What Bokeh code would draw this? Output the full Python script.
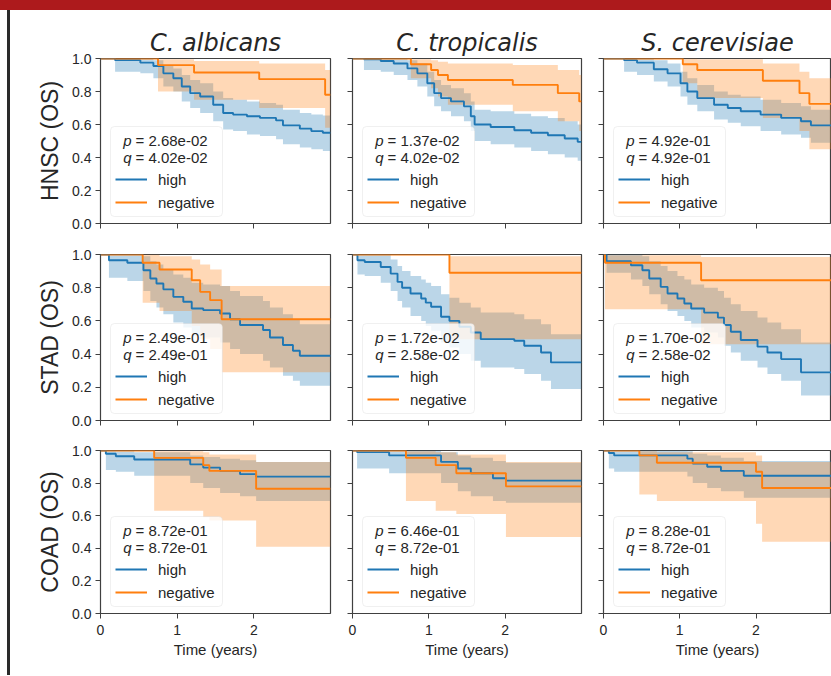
from bokeh.plotting import figure
from bokeh.models import (Range1d, FixedTicker, NumeralTickFormatter, BoxAnnotation,
                          Label, Legend, LegendItem, Div, CustomLabelingPolicy)
from bokeh.layouts import column, row
from bokeh.embed import file_html
from bokeh.resources import INLINE

# ---------------- data ----------------
SPECIES = ["C. albicans", "C. tropicalis", "S. cerevisiae"]
CANCERS = ["HNSC (OS)", "STAD (OS)", "COAD (OS)"]
GROUPS = ["high", "negative"]
P_VALUES = [["2.68e-02", "1.37e-02", "4.92e-01"],
            ["2.49e-01", "1.72e-02", "1.70e-02"],
            ["8.72e-01", "6.46e-01", "8.28e-01"]]
Q_VALUES = [["4.02e-02", "4.02e-02", "4.92e-01"],
            ["2.49e-01", "2.58e-02", "2.58e-02"],
            ["8.72e-01", "8.72e-01", "8.72e-01"]]
X_TICKS = [0, 1, 2]
Y_TICKS = [0.0, 0.2, 0.4, 0.6, 0.8, 1.0]
X_LABEL = "Time (years)"

# HNSC / C. albicans
hnsc_alb_high_t = [0, 0.19, 0.52, 0.69, 0.82, 0.95, 1.06, 1.17, 1.30, 1.47, 1.60, 1.73, 1.91, 2.08, 2.29, 2.38, 2.60, 2.75, 2.90, 3.0]
hnsc_alb_high_s = [1.0, 0.99, 0.975, 0.955, 0.91, 0.88, 0.83, 0.79, 0.77, 0.72, 0.67, 0.66, 0.65, 0.64, 0.625, 0.595, 0.575, 0.56, 0.55, 0.55]
hnsc_alb_high_lo = [1.0, 0.92, 0.91, 0.88, 0.83, 0.80, 0.74, 0.70, 0.67, 0.62, 0.57, 0.56, 0.54, 0.53, 0.51, 0.48, 0.46, 0.45, 0.44, 0.44]
hnsc_alb_high_hi = [1.0, 1.0, 1.0, 0.99, 0.96, 0.94, 0.90, 0.87, 0.85, 0.80, 0.76, 0.75, 0.74, 0.73, 0.72, 0.69, 0.67, 0.66, 0.655, 0.655]
hnsc_alb_neg_t = [0, 0.75, 1.22, 2.07, 2.93, 3.0]
hnsc_alb_neg_s = [1.0, 0.96, 0.915, 0.875, 0.78, 0.78]
hnsc_alb_neg_lo = [1.0, 0.80, 0.75, 0.70, 0.58, 0.58]
hnsc_alb_neg_hi = [1.0, 0.995, 0.985, 0.97, 0.93, 0.93]

# HNSC / C. tropicalis
hnsc_tro_high_t = [0, 0.15, 0.37, 0.54, 0.72, 0.85, 0.98, 1.07, 1.16, 1.29, 1.46, 1.55, 1.60, 1.81, 2.12, 2.34, 2.56, 2.78, 2.95, 3.0]
hnsc_tro_high_s = [1.0, 0.995, 0.985, 0.97, 0.94, 0.91, 0.85, 0.79, 0.76, 0.74, 0.71, 0.65, 0.60, 0.585, 0.565, 0.55, 0.535, 0.515, 0.495, 0.495]
hnsc_tro_high_lo = [1.0, 0.93, 0.92, 0.90, 0.87, 0.83, 0.77, 0.71, 0.68, 0.65, 0.62, 0.56, 0.50, 0.48, 0.46, 0.44, 0.42, 0.40, 0.38, 0.38]
hnsc_tro_high_hi = [1.0, 1.0, 1.0, 1.0, 0.99, 0.97, 0.92, 0.87, 0.84, 0.82, 0.79, 0.74, 0.69, 0.68, 0.665, 0.65, 0.64, 0.62, 0.60, 0.60]
hnsc_tro_neg_t = [0, 0.765, 1.03, 1.12, 1.25, 2.10, 2.69, 2.97, 3.0]
hnsc_tro_neg_s = [1.0, 0.965, 0.93, 0.90, 0.87, 0.84, 0.79, 0.74, 0.74]
hnsc_tro_neg_lo = [1.0, 0.88, 0.82, 0.77, 0.72, 0.68, 0.62, 0.56, 0.56]
hnsc_tro_neg_hi = [1.0, 0.995, 0.99, 0.98, 0.97, 0.96, 0.93, 0.90, 0.90]

# HNSC / S. cerevisiae
hnsc_cer_high_t = [0, 0.27, 0.44, 0.66, 0.84, 1.01, 1.10, 1.23, 1.45, 1.63, 1.80, 2.06, 2.33, 2.59, 2.72, 3.0]
hnsc_cer_high_s = [1.0, 0.99, 0.975, 0.935, 0.91, 0.85, 0.80, 0.76, 0.72, 0.70, 0.68, 0.66, 0.64, 0.62, 0.595, 0.595]
hnsc_cer_high_lo = [1.0, 0.92, 0.90, 0.86, 0.83, 0.77, 0.72, 0.68, 0.63, 0.61, 0.59, 0.56, 0.54, 0.52, 0.49, 0.49]
hnsc_cer_high_hi = [1.0, 1.0, 1.0, 0.99, 0.97, 0.92, 0.88, 0.84, 0.80, 0.78, 0.77, 0.75, 0.73, 0.71, 0.69, 0.69]
hnsc_cer_neg_t = [0, 1.04, 1.23, 2.09, 2.57, 2.70, 3.0]
hnsc_cer_neg_s = [1.0, 0.965, 0.93, 0.865, 0.79, 0.725, 0.725]
hnsc_cer_neg_lo = [1.0, 0.85, 0.76, 0.64, 0.56, 0.45, 0.45]
hnsc_cer_neg_hi = [1.0, 1.0, 0.995, 0.97, 0.92, 0.88, 0.88]

# STAD / C. albicans
stad_alb_high_t = [0, 0.11, 0.35, 0.56, 0.65, 0.73, 0.82, 0.95, 1.08, 1.19, 1.34, 1.56, 1.69, 1.82, 2.12, 2.21, 2.38, 2.51, 2.60, 3.0]
stad_alb_high_s = [1.0, 0.965, 0.95, 0.905, 0.855, 0.825, 0.79, 0.745, 0.715, 0.675, 0.665, 0.645, 0.61, 0.575, 0.545, 0.50, 0.455, 0.42, 0.39, 0.39]
stad_alb_high_lo = [1.0, 0.86, 0.84, 0.78, 0.72, 0.68, 0.64, 0.59, 0.56, 0.51, 0.50, 0.47, 0.43, 0.40, 0.36, 0.32, 0.27, 0.24, 0.21, 0.21]
stad_alb_high_hi = [1.0, 1.0, 1.0, 0.99, 0.96, 0.94, 0.91, 0.88, 0.86, 0.83, 0.82, 0.81, 0.78, 0.75, 0.72, 0.68, 0.64, 0.61, 0.58, 0.58]
stad_alb_neg_t = [0, 0.55, 0.77, 1.19, 1.30, 1.43, 1.58, 3.0]
stad_alb_neg_s = [1.0, 0.95, 0.91, 0.845, 0.775, 0.725, 0.61, 0.61]
stad_alb_neg_lo = [1.0, 0.71, 0.66, 0.57, 0.49, 0.43, 0.29, 0.29]
stad_alb_neg_hi = [1.0, 1.0, 0.99, 0.97, 0.94, 0.91, 0.81, 0.81]

# STAD / C. tropicalis
stad_tro_high_t = [0, 0.065, 0.16, 0.37, 0.50, 0.59, 0.65, 0.76, 0.90, 0.96, 1.03, 1.16, 1.27, 1.40, 1.55, 1.68, 2.12, 2.25, 2.47, 2.60, 3.0]
stad_tro_high_s = [1.0, 0.965, 0.955, 0.925, 0.885, 0.835, 0.80, 0.765, 0.735, 0.71, 0.685, 0.625, 0.60, 0.565, 0.53, 0.49, 0.48, 0.45, 0.41, 0.35, 0.35]
stad_tro_high_lo = [1.0, 0.88, 0.87, 0.83, 0.78, 0.72, 0.68, 0.63, 0.60, 0.57, 0.54, 0.47, 0.44, 0.40, 0.36, 0.32, 0.31, 0.28, 0.24, 0.19, 0.19]
stad_tro_high_hi = [1.0, 1.0, 1.0, 1.0, 0.97, 0.93, 0.90, 0.87, 0.85, 0.83, 0.81, 0.76, 0.74, 0.71, 0.68, 0.65, 0.64, 0.61, 0.58, 0.52, 0.52]
stad_tro_neg_t = [0, 1.27, 3.0]
stad_tro_neg_s = [1.0, 0.89, 0.89]
stad_tro_neg_lo = [1.0, 0.49, 0.49]
stad_tro_neg_hi = [1.0, 0.99, 0.99]

# STAD / S. cerevisiae
stad_cer_high_t = [0, 0.04, 0.36, 0.51, 0.60, 0.75, 0.84, 0.97, 1.06, 1.15, 1.32, 1.50, 1.58, 1.67, 1.80, 2.02, 2.15, 2.33, 2.59, 3.0]
stad_cer_high_s = [1.0, 0.96, 0.935, 0.905, 0.855, 0.805, 0.765, 0.735, 0.705, 0.675, 0.65, 0.62, 0.575, 0.535, 0.485, 0.445, 0.41, 0.37, 0.29, 0.29]
stad_cer_high_lo = [1.0, 0.89, 0.85, 0.81, 0.76, 0.70, 0.66, 0.63, 0.60, 0.56, 0.53, 0.50, 0.45, 0.41, 0.36, 0.32, 0.28, 0.24, 0.15, 0.15]
stad_cer_high_hi = [1.0, 1.0, 1.0, 0.99, 0.96, 0.93, 0.90, 0.87, 0.85, 0.82, 0.80, 0.78, 0.74, 0.70, 0.66, 0.62, 0.59, 0.55, 0.47, 0.47]
stad_cer_neg_t = [0, 0.02, 1.28, 3.0]
stad_cer_neg_s = [1.0, 0.95, 0.845, 0.845]
stad_cer_neg_lo = [1.0, 0.67, 0.46, 0.46]
stad_cer_neg_hi = [1.0, 0.995, 0.985, 0.985]

# COAD / C. albicans
coad_alb_high_t = [0, 0.07, 0.20, 0.44, 1.17, 1.34, 1.56, 1.82, 2.03, 3.0]
coad_alb_high_s = [1.0, 0.98, 0.965, 0.945, 0.915, 0.895, 0.875, 0.855, 0.84, 0.84]
coad_alb_high_lo = [1.0, 0.88, 0.87, 0.845, 0.80, 0.77, 0.74, 0.72, 0.69, 0.69]
coad_alb_high_hi = [1.0, 1.0, 0.995, 0.99, 0.97, 0.96, 0.95, 0.94, 0.93, 0.93]
coad_alb_neg_t = [0, 0.70, 1.34, 1.42, 2.03, 3.0]
coad_alb_neg_s = [1.0, 0.955, 0.91, 0.875, 0.765, 0.765]
coad_alb_neg_lo = [1.0, 0.63, 0.59, 0.57, 0.41, 0.41]
coad_alb_neg_hi = [1.0, 0.995, 0.99, 0.975, 0.93, 0.93]

# COAD / C. tropicalis
coad_tro_high_t = [0, 0.06, 0.48, 1.16, 1.38, 1.55, 1.84, 2.01, 3.0]
coad_tro_high_s = [1.0, 0.99, 0.97, 0.93, 0.89, 0.86, 0.83, 0.815, 0.815]
coad_tro_high_lo = [1.0, 0.89, 0.86, 0.80, 0.75, 0.72, 0.69, 0.68, 0.68]
coad_tro_high_hi = [1.0, 1.0, 1.0, 0.99, 0.97, 0.955, 0.935, 0.925, 0.925]
coad_tro_neg_t = [0, 0.70, 1.09, 1.36, 2.01, 3.0]
coad_tro_neg_s = [1.0, 0.955, 0.91, 0.86, 0.78, 0.78]
coad_tro_neg_lo = [1.0, 0.69, 0.63, 0.61, 0.47, 0.47]
coad_tro_neg_hi = [1.0, 0.995, 0.99, 0.975, 0.93, 0.93]

# COAD / S. cerevisiae
coad_cer_high_t = [0, 0.07, 0.14, 1.10, 1.17, 1.36, 1.54, 1.84, 3.0]
coad_cer_high_s = [1.0, 0.985, 0.97, 0.95, 0.92, 0.90, 0.875, 0.845, 0.845]
coad_cer_high_lo = [1.0, 0.89, 0.87, 0.84, 0.80, 0.77, 0.75, 0.71, 0.71]
coad_cer_high_hi = [1.0, 1.0, 1.0, 0.995, 0.98, 0.97, 0.955, 0.935, 0.935]
coad_cer_neg_t = [0, 0.47, 0.70, 2.00, 2.08, 3.0]
coad_cer_neg_s = [1.0, 0.97, 0.925, 0.87, 0.77, 0.77]
coad_cer_neg_lo = [1.0, 0.73, 0.69, 0.55, 0.44, 0.44]
coad_cer_neg_hi = [1.0, 0.995, 0.99, 0.97, 0.93, 0.93]

CURVES = [
    [[(hnsc_alb_high_t, hnsc_alb_high_s, hnsc_alb_high_lo, hnsc_alb_high_hi),
      (hnsc_alb_neg_t, hnsc_alb_neg_s, hnsc_alb_neg_lo, hnsc_alb_neg_hi)],
     [(hnsc_tro_high_t, hnsc_tro_high_s, hnsc_tro_high_lo, hnsc_tro_high_hi),
      (hnsc_tro_neg_t, hnsc_tro_neg_s, hnsc_tro_neg_lo, hnsc_tro_neg_hi)],
     [(hnsc_cer_high_t, hnsc_cer_high_s, hnsc_cer_high_lo, hnsc_cer_high_hi),
      (hnsc_cer_neg_t, hnsc_cer_neg_s, hnsc_cer_neg_lo, hnsc_cer_neg_hi)]],
    [[(stad_alb_high_t, stad_alb_high_s, stad_alb_high_lo, stad_alb_high_hi),
      (stad_alb_neg_t, stad_alb_neg_s, stad_alb_neg_lo, stad_alb_neg_hi)],
     [(stad_tro_high_t, stad_tro_high_s, stad_tro_high_lo, stad_tro_high_hi),
      (stad_tro_neg_t, stad_tro_neg_s, stad_tro_neg_lo, stad_tro_neg_hi)],
     [(stad_cer_high_t, stad_cer_high_s, stad_cer_high_lo, stad_cer_high_hi),
      (stad_cer_neg_t, stad_cer_neg_s, stad_cer_neg_lo, stad_cer_neg_hi)]],
    [[(coad_alb_high_t, coad_alb_high_s, coad_alb_high_lo, coad_alb_high_hi),
      (coad_alb_neg_t, coad_alb_neg_s, coad_alb_neg_lo, coad_alb_neg_hi)],
     [(coad_tro_high_t, coad_tro_high_s, coad_tro_high_lo, coad_tro_high_hi),
      (coad_tro_neg_t, coad_tro_neg_s, coad_tro_neg_lo, coad_tro_neg_hi)],
     [(coad_cer_high_t, coad_cer_high_s, coad_cer_high_lo, coad_cer_high_hi),
      (coad_cer_neg_t, coad_cer_neg_s, coad_cer_neg_lo, coad_cer_neg_hi)]],
]

# ---------------- style / layout ----------------
COLORS = ["#1f77b4", "#ff7f0e"]
FONT = "Liberation Sans"
TITLE_FONT = "DejaVu Sans"
TXT = "#262626"
SPINE = "#404040"

COL_W = [331, 251, 239]
COL_L = [90, 11, 11]
COL_R = [11, 11, 0]
ROW_H = [228, 196, 241]
ROW_T = [48, 16, 16]
ROW_B = [15, 14, 62]
X_END = [3.0, 3.0, 2.99]


def step_xy(t, v):
    xs, ys = [t[0]], [v[0]]
    for i in range(1, len(t)):
        xs += [t[i], t[i]]
        ys += [v[i - 1], v[i]]
    return xs, ys


def hide_tick_labels(ax):
    # tick marks stay, labels are neither measured nor drawn
    ax.major_label_text_font_size = "0px"
    ax.major_label_standoff = 0
    ax.major_label_policy = CustomLabelingPolicy(code="return new Set()")


def make_panel(r, c):
    p = figure(width=COL_W[c], height=ROW_H[r],
               x_range=Range1d(0, X_END[c]), y_range=Range1d(0, 1.0),
               output_backend="svg", toolbar_location=None, tools="",
               min_border_left=COL_L[c], min_border_right=COL_R[c],
               min_border_top=ROW_T[r], min_border_bottom=ROW_B[r])
    p.xgrid.visible = False
    p.ygrid.visible = False
    p.background_fill_color = "white"
    p.border_fill_color = "white"
    p.outline_line_color = SPINE
    p.outline_line_width = 1.2

    for ax in (p.xaxis[0], p.yaxis[0]):
        ax.axis_line_color = None
        ax.major_tick_out = 5
        ax.major_tick_in = 0
        ax.minor_tick_out = 0
        ax.minor_tick_in = 0
        ax.major_tick_line_color = SPINE
        ax.major_tick_line_width = 1
        ax.major_label_text_font = FONT
        ax.major_label_text_font_size = "14px"
        ax.major_label_text_color = TXT
        ax.axis_label_text_font = FONT
        ax.axis_label_text_font_style = "normal"
        ax.axis_label_text_color = TXT
    p.xaxis.ticker = FixedTicker(ticks=X_TICKS)
    p.yaxis.ticker = FixedTicker(ticks=Y_TICKS)
    p.yaxis.formatter = NumeralTickFormatter(format="0.0")
    p.yaxis.major_label_standoff = 4
    p.xaxis.major_label_standoff = 6

    if c == 0:
        p.yaxis.axis_label = CANCERS[r]
        p.yaxis.axis_label_text_font_size = "23px"
        p.yaxis.axis_label_standoff = 6
    else:
        hide_tick_labels(p.yaxis[0])
    if r == 2:
        p.xaxis.axis_label = X_LABEL
        p.xaxis.axis_label_text_font_size = "15px"
        p.xaxis.axis_label_standoff = 3
    else:
        hide_tick_labels(p.xaxis[0])
    if r == 0:
        p.title.text = SPECIES[c]
        p.title.align = "center"
        p.title.text_font = TITLE_FONT
        p.title.text_font_style = "italic"
        p.title.text_font_size = "24px"
        p.title.text_color = TXT
        p.title.standoff = 4

    curves = CURVES[r][c]
    for (t, s, lo, hi), color in zip(curves, COLORS):
        xs, ylo = step_xy(t, lo)
        _, yhi = step_xy(t, hi)
        p.varea(x=xs, y1=ylo, y2=yhi, fill_color=color, fill_alpha=0.3)
    lines = []
    for (t, s, lo, hi), color in zip(curves, COLORS):
        xs, ys = step_xy(t, s)
        lines.append(p.line(xs, ys, line_color=color, line_width=1.9))

    # legend frame with p / q annotation
    p.add_layout(BoxAnnotation(left=10, right=122, bottom=7, top=97,
                               left_units="screen", right_units="screen",
                               bottom_units="screen", top_units="screen",
                               fill_color="white", fill_alpha=0.8,
                               line_color="#cccccc", line_width=1, border_radius=4))
    for yy, sym, val in ((83, "p", P_VALUES[r][c]), (66, "q", Q_VALUES[r][c])):
        p.add_layout(Label(x=31, y=yy, x_units="screen", y_units="screen", text=sym,
                           text_font=FONT, text_font_style="italic", text_font_size="15px",
                           text_color=TXT, text_align="right", text_baseline="middle"))
        p.add_layout(Label(x=35, y=yy, x_units="screen", y_units="screen", text="= " + val,
                           text_font=FONT, text_font_size="15px",
                           text_color=TXT, text_align="left", text_baseline="middle"))
    legend = Legend(items=[LegendItem(label=g, renderers=[ln]) for g, ln in zip(GROUPS, lines)],
                    location=(10, 6), margin=0, padding=5, spacing=3,
                    glyph_width=32, glyph_height=20, label_height=20, label_standoff=11,
                    label_text_font=FONT, label_text_font_size="15px", label_text_color=TXT,
                    background_fill_alpha=0, border_line_alpha=0)
    p.add_layout(legend)
    return p


rows = []
for r in range(3):
    rows.append(row(*[make_panel(r, c) for c in range(3)]))

grid = column(*rows)
total_h = sum(ROW_H)
gap_bar = Div(width=7, height=total_h, margin=0, styles={"background-color": "white"})
left_bar = Div(width=3, height=total_h, margin=0, styles={"background-color": "#2a2a2a"})
top_bar = Div(width=7 + 3 + sum(COL_W), height=10, margin=0, styles={"background-color": "#ad1a1c"})
layout = column(top_bar, row(gap_bar, left_bar, grid))

open("out.html", "w").write(file_html(layout, INLINE))
